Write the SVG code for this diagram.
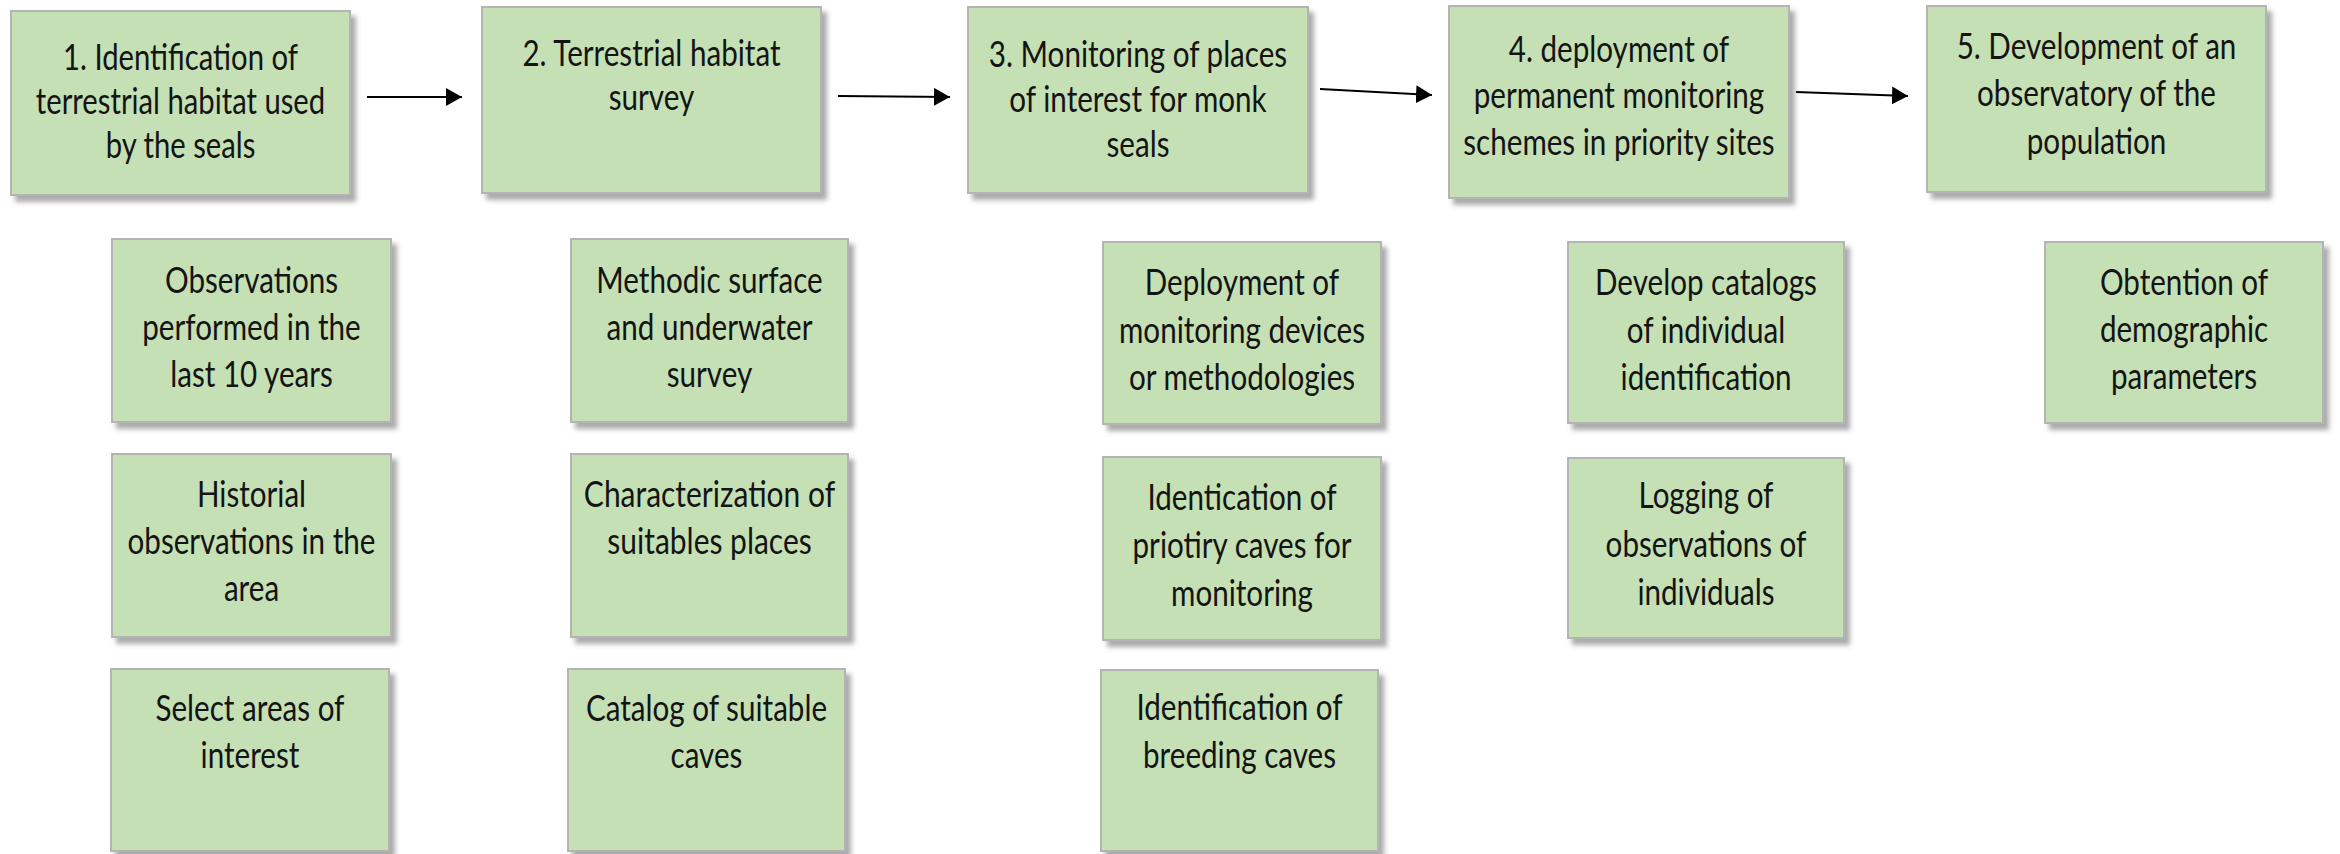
<svg xmlns="http://www.w3.org/2000/svg" width="2340" height="854" viewBox="0 0 2340 854">
<defs>
<style>
.box{fill:#c5e0b4;stroke:#b4b4b4;stroke-width:2;filter:url(#sh)}
.t{font-family:Lato,"Open Sans",sans-serif;font-size:37px;fill:#141414;text-anchor:middle}
.c{stroke:#000;stroke-width:2;fill:none;marker-end:url(#ah)}
</style>
<filter id="sh" x="-10%" y="-10%" width="130%" height="130%">
<feDropShadow dx="5" dy="6" stdDeviation="2.5" flood-color="#555" flood-opacity="0.5"/>
</filter>
<marker id="ah" markerUnits="userSpaceOnUse" markerWidth="16" markerHeight="18" refX="16" refY="9" orient="auto">
<path d="M0,0 L16,9 L0,18 z" fill="#000"/>
</marker>
</defs>
<rect width="2340" height="854" fill="#fff"/>
<g id="connectors">
<line class="c" x1="367" y1="97" x2="462" y2="97"/>
<line class="c" x1="838" y1="96" x2="950" y2="97"/>
<line class="c" x1="1320" y1="89" x2="1432" y2="95"/>
<line class="c" x1="1796" y1="92" x2="1908" y2="96"/>
</g>
<g id="n1">
<rect class="box" x="11" y="11" width="339" height="184"/>
<text class="t" transform="translate(180.5 0) scale(0.79 1)"><tspan x="0" y="70">1. Identification of</tspan><tspan x="0" y="114">terrestrial habitat used</tspan><tspan x="0" y="158">by the seals</tspan></text>
</g>
<g id="n2">
<rect class="box" x="482" y="7" width="339" height="186"/>
<text class="t" transform="translate(651.5 0) scale(0.8 1)"><tspan x="0" y="66">2. Terrestrial habitat</tspan><tspan x="0" y="110">survey</tspan></text>
</g>
<g id="n3">
<rect class="box" x="968" y="7" width="340" height="186"/>
<text class="t" transform="translate(1138 0) scale(0.8 1)"><tspan x="0" y="67">3. Monitoring of places</tspan><tspan x="0" y="112">of interest for monk</tspan><tspan x="0" y="157">seals</tspan></text>
</g>
<g id="n4">
<rect class="box" x="1449" y="6" width="340" height="192"/>
<text class="t" transform="translate(1619 0) scale(0.8 1)"><tspan x="0" y="62">4. deployment of</tspan><tspan x="0" y="108">permanent monitoring</tspan><tspan x="0" y="155">schemes in priority sites</tspan></text>
</g>
<g id="n5">
<rect class="box" x="1927" y="6" width="339" height="186"/>
<text class="t" transform="translate(2096.5 0) scale(0.8 1)"><tspan x="0" y="59">5. Development of an</tspan><tspan x="0" y="106">observatory of the</tspan><tspan x="0" y="154">population</tspan></text>
</g>
<g id="s1a">
<rect class="box" x="112" y="239" width="279" height="183"/>
<text class="t" transform="translate(251.5 0) scale(0.8 1)"><tspan x="0" y="293">Observations</tspan><tspan x="0" y="340">performed in the</tspan><tspan x="0" y="387">last 10 years</tspan></text>
</g>
<g id="s1b">
<rect class="box" x="112" y="454" width="279" height="183"/>
<text class="t" transform="translate(251.5 0) scale(0.8 1)"><tspan x="0" y="507">Historial</tspan><tspan x="0" y="554">observations in the</tspan><tspan x="0" y="601">area</tspan></text>
</g>
<g id="s1c">
<rect class="box" x="111" y="669" width="278" height="182"/>
<text class="t" transform="translate(250 0) scale(0.8 1)"><tspan x="0" y="721">Select areas of</tspan><tspan x="0" y="768">interest</tspan></text>
</g>
<g id="s2a">
<rect class="box" x="571" y="239" width="277" height="183"/>
<text class="t" transform="translate(709.5 0) scale(0.8 1)"><tspan x="0" y="293">Methodic surface</tspan><tspan x="0" y="340">and underwater</tspan><tspan x="0" y="387">survey</tspan></text>
</g>
<g id="s2b">
<rect class="box" x="571" y="454" width="277" height="183"/>
<text class="t" transform="translate(709.5 0) scale(0.81 1)"><tspan x="0" y="507">Characterization of</tspan><tspan x="0" y="554">suitables places</tspan></text>
</g>
<g id="s2c">
<rect class="box" x="568" y="669" width="277" height="182"/>
<text class="t" transform="translate(706.5 0) scale(0.8 1)"><tspan x="0" y="721">Catalog of suitable</tspan><tspan x="0" y="768">caves</tspan></text>
</g>
<g id="s3a">
<rect class="box" x="1103" y="242" width="278" height="182"/>
<text class="t" transform="translate(1242 0) scale(0.8 1)"><tspan x="0" y="295">Deployment of</tspan><tspan x="0" y="343">monitoring devices</tspan><tspan x="0" y="390">or methodologies</tspan></text>
</g>
<g id="s3b">
<rect class="box" x="1103" y="457" width="278" height="183"/>
<text class="t" transform="translate(1242 0) scale(0.8 1)"><tspan x="0" y="510">Identication of</tspan><tspan x="0" y="558">priotiry caves for</tspan><tspan x="0" y="606">monitoring</tspan></text>
</g>
<g id="s3c">
<rect class="box" x="1101" y="670" width="277" height="181"/>
<text class="t" transform="translate(1239.5 0) scale(0.8 1)"><tspan x="0" y="720">Identification of</tspan><tspan x="0" y="768">breeding caves</tspan></text>
</g>
<g id="s4a">
<rect class="box" x="1568" y="242" width="276" height="181"/>
<text class="t" transform="translate(1706 0) scale(0.8 1)"><tspan x="0" y="295">Develop catalogs</tspan><tspan x="0" y="343">of individual</tspan><tspan x="0" y="390">identification</tspan></text>
</g>
<g id="s4b">
<rect class="box" x="1568" y="458" width="276" height="180"/>
<text class="t" transform="translate(1706 0) scale(0.8 1)"><tspan x="0" y="508">Logging of</tspan><tspan x="0" y="557">observations of</tspan><tspan x="0" y="605">individuals</tspan></text>
</g>
<g id="s5a">
<rect class="box" x="2045" y="242" width="278" height="181"/>
<text class="t" transform="translate(2184 0) scale(0.8 1)"><tspan x="0" y="295">Obtention of</tspan><tspan x="0" y="342">demographic</tspan><tspan x="0" y="389">parameters</tspan></text>
</g>
</svg>
